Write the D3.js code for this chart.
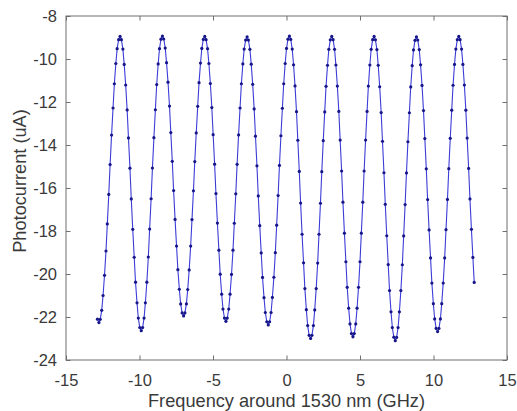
<!DOCTYPE html>
<html>
<head>
<meta charset="utf-8">
<script src="https://cdn.jsdelivr.net/npm/d3@7"></script>
<style>
    body { margin: 0; background: #fff; }
    svg { display: block; }
</style>
</head>
<body>
<svg id="chart" width="517" height="411"></svg>
<script>
//frequency offset (GHz)
var freq = [
    -12.86, -12.76, -12.67, -12.57, -12.48, -12.38, -12.28, -12.19, -12.09, -12.00,
    -11.90, -11.80, -11.71, -11.61, -11.52, -11.42, -11.32, -11.23, -11.13, -11.04,
    -10.94, -10.84, -10.75, -10.65, -10.56, -10.46, -10.36, -10.27, -10.17, -10.08,
    -9.98, -9.88, -9.79, -9.69, -9.60, -9.50, -9.40, -9.31, -9.21, -9.12,
    -9.02, -8.92, -8.83, -8.73, -8.64, -8.54, -8.44, -8.35, -8.25, -8.16,
    -8.06, -7.96, -7.87, -7.77, -7.68, -7.58, -7.48, -7.39, -7.29, -7.20,
    -7.10, -7.00, -6.91, -6.81, -6.72, -6.62, -6.52, -6.43, -6.33, -6.24,
    -6.14, -6.04, -5.95, -5.85, -5.76, -5.66, -5.56, -5.47, -5.37, -5.28,
    -5.18, -5.08, -4.99, -4.89, -4.80, -4.70, -4.60, -4.51, -4.41, -4.32,
    -4.22, -4.12, -4.03, -3.93, -3.84, -3.74, -3.64, -3.55, -3.45, -3.36,
    -3.26, -3.16, -3.07, -2.97, -2.88, -2.78, -2.68, -2.59, -2.49, -2.40,
    -2.30, -2.20, -2.11, -2.01, -1.92, -1.82, -1.72, -1.63, -1.53, -1.44,
    -1.34, -1.24, -1.15, -1.05, -0.96, -0.86, -0.76, -0.67, -0.57, -0.48,
    -0.38, -0.28, -0.19, -0.09, 0.00, 0.10, 0.20, 0.29, 0.39, 0.48,
    0.58, 0.68, 0.77, 0.87, 0.96, 1.06, 1.16, 1.25, 1.35, 1.44,
    1.54, 1.64, 1.73, 1.83, 1.92, 2.02, 2.12, 2.21, 2.31, 2.40,
    2.50, 2.60, 2.69, 2.79, 2.88, 2.98, 3.08, 3.17, 3.27, 3.36,
    3.46, 3.56, 3.65, 3.75, 3.84, 3.94, 4.04, 4.13, 4.23, 4.32,
    4.42, 4.52, 4.61, 4.71, 4.80, 4.90, 5.00, 5.09, 5.19, 5.28,
    5.38, 5.48, 5.57, 5.67, 5.76, 5.86, 5.96, 6.05, 6.15, 6.24,
    6.34, 6.44, 6.53, 6.63, 6.72, 6.82, 6.92, 7.01, 7.11, 7.20,
    7.30, 7.40, 7.49, 7.59, 7.68, 7.78, 7.88, 7.97, 8.07, 8.16,
    8.26, 8.36, 8.45, 8.55, 8.64, 8.74, 8.84, 8.93, 9.03, 9.12,
    9.22, 9.32, 9.41, 9.51, 9.60, 9.70, 9.80, 9.89, 9.99, 10.08,
    10.18, 10.28, 10.37, 10.47, 10.56, 10.66, 10.76, 10.85, 10.95, 11.04,
    11.14, 11.24, 11.33, 11.43, 11.52, 11.62, 11.72, 11.81, 11.91, 12.00,
    12.10, 12.20, 12.29, 12.39, 12.48, 12.58, 12.68, 12.77
];

//photocurrent (uA)
var current = [
    -22.10,
    -22.26, -22.11, -21.69, -21.00, -20.06, -18.93, -17.67, -16.30, -14.91, -13.54, -12.28, -11.15, -10.21, -9.52, -9.10, -8.95,
    -9.10, -9.54, -10.25, -11.21, -12.37, -13.67, -15.08, -16.51, -17.92, -19.22, -20.38, -21.34, -22.05, -22.49, -22.64,
    -22.49, -22.05, -21.34, -20.38, -19.21, -17.91, -16.50, -15.07, -13.66, -12.36, -11.19, -10.23, -9.52, -9.08, -8.93,
    -9.07, -9.49, -10.17, -11.08, -12.19, -13.42, -14.76, -16.12, -17.46, -18.70, -19.80, -20.71, -21.39, -21.81, -21.95,
    -21.81, -21.39, -20.72, -19.81, -18.70, -17.47, -16.13, -14.77, -13.44, -12.20, -11.10, -10.19, -9.51, -9.09, -8.95,
    -9.10, -9.52, -10.21, -11.14, -12.26, -13.52, -14.89, -16.26, -17.63, -18.89, -20.01, -20.94, -21.63, -22.05, -22.20,
    -22.05, -21.63, -20.94, -20.02, -18.89, -17.64, -16.27, -14.90, -13.53, -12.28, -11.15, -10.23, -9.54, -9.12, -8.97,
    -9.12, -9.55, -10.24, -11.18, -12.32, -13.59, -14.97, -16.37, -17.75, -19.02, -20.16, -21.10, -21.79, -22.22, -22.37,
    -22.22, -21.79, -21.09, -20.15, -19.01, -17.73, -16.35, -14.95, -13.57, -12.29, -11.15, -10.21, -9.51, -9.08, -8.93,
    -9.09, -9.54, -10.27, -11.25, -12.45, -13.78, -15.23, -16.70, -18.15, -19.48, -20.68, -21.66, -22.40, -22.85, -23.00,
    -22.85, -22.40, -21.67, -20.68, -19.49, -18.15, -16.71, -15.24, -13.80, -12.46, -11.27, -10.29, -9.55, -9.11, -8.95,
    -9.10, -9.55, -10.28, -11.26, -12.44, -13.77, -15.21, -16.66, -18.10, -19.43, -20.62, -21.59, -22.32, -22.77, -22.92,
    -22.77, -22.32, -21.59, -20.62, -19.43, -18.10, -16.66, -15.21, -13.77, -12.44, -11.26, -10.28, -9.55, -9.10, -8.95,
    -9.11, -9.56, -10.29, -11.29, -12.49, -13.83, -15.29, -16.76, -18.22, -19.56, -20.77, -21.76, -22.49, -22.94, -23.10,
    -22.95, -22.49, -21.76, -20.77, -19.57, -18.23, -16.77, -15.30, -13.85, -12.50, -11.30, -10.31, -9.58, -9.13, -8.97,
    -9.12, -9.56, -10.27, -11.23, -12.40, -13.70, -15.11, -16.54, -17.95, -19.25, -20.42, -21.38, -22.09, -22.53, -22.68,
    -22.53, -22.09, -21.38, -20.42, -19.25, -17.94, -16.53, -15.10, -13.69, -12.38, -11.22, -10.25, -9.54, -9.10, -8.95,
    -9.10, -9.54, -10.25, -11.21, -12.38, -13.68, -15.09, -16.51, -17.92, -19.23, -20.39
];

//tick values
var xTicks = [-15, -10, -5, 0, 5, 10, 15];
var yTicks = [-24, -22, -20, -18, -16, -14, -12, -10, -8];

var xLabel = "Frequency around 1530 nm (GHz)";
var yLabel = "Photocurrent (uA)";

var margin = {left: 66, right: 10, top: 16, bottom: 51};
var width = 517, height = 411;
var axisColor = "#6f6f6f";
var textColor = "#3a3a3a";
var fontFamily = "'Liberation Sans', Arial, sans-serif";

var svg = d3.select("#chart");

var xScale = d3.scaleLinear()
    .domain([-15, 15])
    .range([margin.left, width - margin.right]);
var yScale = d3.scaleLinear()
    .domain([-24, -8])
    .range([height - margin.bottom, margin.top]);

var points = freq.map((f, i) => ({x: f, y: current[i]}));

//plain hyphen minus like matlab
var tickFmt = d => String(d);

//axes, ticks point inward like matlab
function styleAxis(g, showLabels) {
    g.select(".domain").remove();
    g.selectAll("line").attr("stroke", axisColor);
    g.selectAll("text")
        .attr("fill", textColor)
        .style("font-family", fontFamily)
        .style("font-size", "16.5px");
    if (!showLabels) g.selectAll("text").remove();
}

svg.append("g")
    .attr("transform", "translate(0," + yScale.range()[0] + ")")
    .call(d3.axisBottom(xScale).tickValues(xTicks).tickSize(-4.5).tickPadding(14).tickFormat(tickFmt))
    .call(g => styleAxis(g, true));
svg.append("g")
    .attr("transform", "translate(0," + yScale.range()[1] + ")")
    .call(d3.axisTop(xScale).tickValues(xTicks).tickSize(-4.5))
    .call(g => styleAxis(g, false));
svg.append("g")
    .attr("transform", "translate(" + xScale.range()[0] + ",0)")
    .call(d3.axisLeft(yScale).tickValues(yTicks).tickSize(-4.5).tickPadding(9).tickFormat(tickFmt))
    .call(g => styleAxis(g, true));
svg.append("g")
    .attr("transform", "translate(" + xScale.range()[1] + ",0)")
    .call(d3.axisRight(yScale).tickValues(yTicks).tickSize(-4.5))
    .call(g => styleAxis(g, false));

//box
svg.append("rect")
    .attr("x", xScale.range()[0])
    .attr("y", yScale.range()[1])
    .attr("width", xScale.range()[1] - xScale.range()[0])
    .attr("height", yScale.range()[0] - yScale.range()[1])
    .attr("fill", "none")
    .attr("stroke", axisColor)
    .attr("stroke-width", 1);

//curve
var line = d3.line()
    .x(d => xScale(d.x))
    .y(d => yScale(d.y));

svg.append("path")
    .datum(points)
    .attr("d", line)
    .attr("fill", "none")
    .attr("stroke", "#3c3cd8")
    .attr("stroke-width", 1.1);

svg.append("g")
    .selectAll("circle")
    .data(points)
    .join("circle")
    .attr("cx", d => xScale(d.x))
    .attr("cy", d => yScale(d.y))
    .attr("r", 1.6)
    .attr("fill", "#16168a");

//axis titles
svg.append("text")
    .attr("x", (xScale.range()[0] + xScale.range()[1]) / 2)
    .attr("y", 407)
    .attr("text-anchor", "middle")
    .attr("fill", textColor)
    .style("font-family", fontFamily)
    .style("font-size", "18.2px")
    .text(xLabel);

svg.append("text")
    .attr("transform", "translate(26,181) rotate(-90)")
    .attr("text-anchor", "middle")
    .attr("fill", textColor)
    .style("font-family", fontFamily)
    .style("font-size", "18.2px")
    .text(yLabel);
</script>
</body>
</html>
